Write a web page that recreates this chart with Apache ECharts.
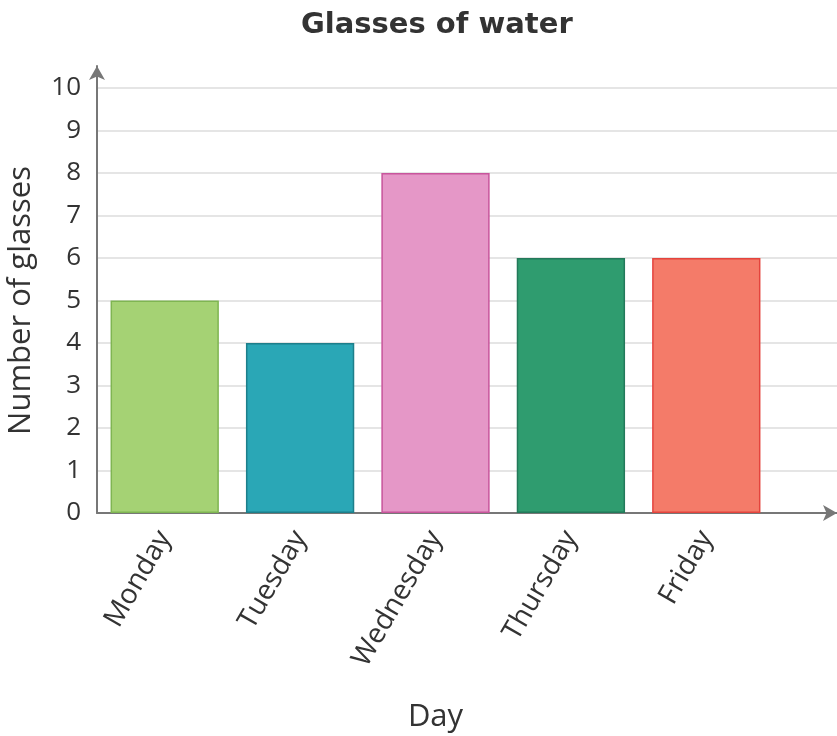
<!DOCTYPE html>
<html><head><meta charset="utf-8">
<script src="https://cdn.jsdelivr.net/npm/echarts@6/dist/echarts.min.js"></script>
<style>html,body{margin:0;padding:0;background:#fff}#c{width:837px;height:736px}</style>
</head><body><div id="c"></div>
<script>
const days = ['Monday','Tuesday','Wednesday','Thursday','Friday'];
const glasses = [5, 4, 8, 6, 6];
const fillColors = ['#a5d274','#2aa7b6','#e597c7','#2f9c6f','#f47b69'];
const borderColors = ['#7fb552','#1d7f8b','#c8559c','#23795a','#e4443d'];
const yTicks = [0,1,2,3,4,5,6,7,8,9,10];

const font = 'Open Sans';
const chart = echarts.init(document.getElementById('c'));
chart.setOption({
  animation: false,
  title: { text: 'Glasses of water', left: 296, top: 6,
    textStyle: { fontFamily: 'DejaVu Sans', fontSize: 29, fontWeight: 'bold', color: '#333' } },
  grid: [
    { left: 97, top: 88, right: 0, bottom: 223, outerBoundsMode: 'none', containLabel: false },
    { left: 97, top: 88, width: 677, bottom: 223, outerBoundsMode: 'none', containLabel: false },
    { left: 97, top: 66, width: 10, bottom: 223, outerBoundsMode: 'none', containLabel: false }
  ],
  xAxis: [
    { gridIndex: 0, type: 'value', min: 0, max: 1, axisLabel: { show: false }, axisTick: { show: false }, splitLine: { show: false },
      axisLine: { show: true, symbol: ['none','arrow'], symbolSize: [12, 14], lineStyle: { color: '#777', width: 2 } } },
    { gridIndex: 1, type: 'category', data: days, axisTick: { show: false }, axisLine: { show: false },
      axisLabel: { rotate: 60, fontFamily: font, fontSize: 28, color: '#333', margin: 20, interval: 0 },
      name: 'Day', nameLocation: 'middle', nameGap: 189,
      nameTextStyle: { fontFamily: font, fontSize: 31, color: '#333' } },
    { gridIndex: 2, type: 'value', min: 0, max: 1, show: false }
  ],
  yAxis: [
    { gridIndex: 0, type: 'value', min: 0, max: 10, interval: 1,
      axisLabel: { fontFamily: font, fontSize: 26, color: '#333', margin: 16,
        formatter: v => yTicks.includes(v) ? String(v) : '' },
      axisLine: { show: false }, axisTick: { show: false },
      splitLine: { lineStyle: { color: '#dcdcdc', width: 1.5 } },
      name: 'Number of glasses', nameLocation: 'middle', nameGap: 60, nameRotate: 90,
      nameTextStyle: { fontFamily: font, fontSize: 31, color: '#333' } },
    { gridIndex: 1, type: 'value', min: 0, max: 10, show: false },
    { gridIndex: 2, type: 'value', min: 0, max: 10, show: true, axisLabel: { show: false }, axisTick: { show: false }, splitLine: { show: false },
      axisLine: { show: true, symbol: ['none','arrow'], symbolSize: [12, 14], lineStyle: { color: '#777', width: 2 } } }
  ],
  series: [{
    type: 'bar', xAxisIndex: 1, yAxisIndex: 1, barWidth: '80%',
    data: glasses.map((v, i) => ({ value: v, itemStyle: { color: fillColors[i], borderColor: borderColors[i], borderWidth: 1.5 } }))
  }]
});
</script></body></html>
